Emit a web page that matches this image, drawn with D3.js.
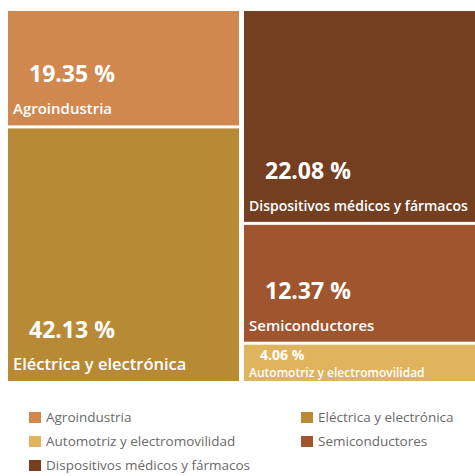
<!DOCTYPE html>
<html>
<head>
<meta charset="utf-8">
<script src="https://cdn.jsdelivr.net/npm/d3@7"></script>
<style>
  html, body { margin: 0; padding: 0; background: #ffffff; }
  svg { display: block; }
</style>
</head>
<body>
<svg id="chart" width="475" height="476"></svg>
<script>
// Sector shares (%) grouped in two columns of the treemap
const groups = ["izquierda", "derecha"];
const categories = [
  "Agroindustria",
  "Eléctrica y electrónica",
  "Dispositivos médicos y fármacos",
  "Semiconductores",
  "Automotriz y electromovilidad"
];
const categoryGroup = ["izquierda", "izquierda", "derecha", "derecha", "derecha"];
const shares = [19.35, 42.13, 22.08, 12.37, 4.06];
const colors = ["#D1884F", "#B88A36", "#743F21", "#9F552D", "#E0B45E"];

// Legend order (two columns, row by row)
const legendOrder = [
  "Agroindustria",
  "Eléctrica y electrónica",
  "Automotriz y electromovilidad",
  "Semiconductores",
  "Dispositivos médicos y fármacos"
];

const svg = d3.select("#chart");
const area = { x0: 8, y0: 11, x1: 475, y1: 381 };

const color = d3.scaleOrdinal().domain(categories).range(colors);

// Build hierarchy: root -> column groups -> sectors
const rootData = {
  name: "root",
  children: groups.map(g => ({
    name: g,
    children: categories
      .map((c, i) => ({ name: c, value: shares[i], group: categoryGroup[i] }))
      .filter(d => d.group === g)
  }))
};

// Columns share the width evenly; sectors stack inside each column by share
function columnTile(node, x0, y0, x1, y1) {
  if (node.depth === 0) {
    const x = d3.scaleBand().domain(node.children.map(c => c.data.name))
      .range([x0, x1]).paddingInner(0);
    node.children.forEach(c => {
      c.x0 = x(c.data.name);
      c.x1 = x(c.data.name) + x.bandwidth();
      c.y0 = y0; c.y1 = y1;
    });
  } else {
    d3.treemapSlice(node, x0, y0, x1, y1);
  }
}

const root = d3.hierarchy(rootData).sum(d => d.value || 0);

d3.treemap()
  .tile(columnTile)
  .size([area.x1 - area.x0, area.y1 - area.y0])
  .paddingInner(n => n.depth === 0 ? 5 : 3)
  .round(false)(root);

const g = svg.append("g").attr("transform", `translate(${area.x0},${area.y0})`);

const leaves = root.leaves();
const isSmall = d => (d.y1 - d.y0) < 60;

const cell = g.selectAll("g.cell")
  .data(leaves)
  .join("g")
  .attr("class", "cell")
  .attr("transform", d => `translate(${d.x0},${d.y0})`);

cell.append("rect")
  .attr("width", d => d.x1 - d.x0)
  .attr("height", d => d.y1 - d.y0)
  .attr("fill", d => color(d.data.name));

// Sector name near the bottom of each tile, shrunk to fit the tile width
cell.append("text")
  .attr("class", "name")
  .attr("x", 5)
  .attr("y", d => d.y1 - d.y0 - (isSmall(d) ? 4 : 11))
  .attr("fill", "#ffffff")
  .style("font-family", "'Open Sans', sans-serif")
  .style("font-weight", 600)
  .style("font-size", d => (isSmall(d) ? 12 : (d.y1 - d.y0) > 200 ? 16.5 : 15) + "px")
  .text(d => d.data.name)
  .each(function(d) {
    const avail = (d.x1 - d.x0) - 12;
    const w = this.getComputedTextLength();
    if (w > avail) {
      const fs = parseFloat(this.style.fontSize) * avail / w;
      d3.select(this).style("font-size", fs + "px");
    }
  });

// Share value above the name
cell.append("text")
  .attr("class", "value")
  .attr("x", d => isSmall(d) ? 16 : 21)
  .attr("y", d => isSmall(d) ? 15 : (d.y1 - d.y0) - 43)
  .attr("fill", "#ffffff")
  .style("font-family", "'Open Sans', sans-serif")
  .style("font-weight", 700)
  .style("font-size", d => isSmall(d) ? "14px" : "23px")
  .text(d => d3.format(".2f")(d.data.value) + " %");

// Legend
const legendCol = d3.scaleOrdinal().domain([0, 1]).range([29, 301]);
const legendRow = d3.scaleLinear().domain([0, 1]).range([412, 436]);

const legend = svg.append("g").attr("class", "legend")
  .selectAll("g")
  .data(legendOrder)
  .join("g")
  .attr("transform", (d, i) => `translate(${legendCol(i % 2)},${legendRow(Math.floor(i / 2))})`);

legend.append("rect")
  .attr("width", 12)
  .attr("height", 11)
  .attr("fill", d => color(d));

legend.append("text")
  .attr("x", 17)
  .attr("y", 10)
  .attr("fill", "#6a6a6a")
  .style("font-family", "'Open Sans', sans-serif")
  .style("font-size", "13.5px")
  .text(d => d);
</script>
</body>
</html>
